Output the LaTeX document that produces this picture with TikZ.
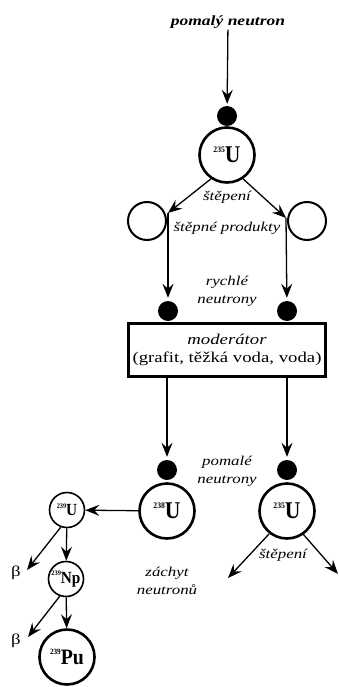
\documentclass[tikz,border=0pt]{standalone}
\usepackage{fontspec}
\setmainfont{Liberation Serif}[FakeStretch=1.25]
\newfontfamily\nucfont{Liberation Serif}[FakeStretch=0.9]
\usetikzlibrary{arrows.meta}
\newcommand\nucl[4]{{\nucfont\bfseries\fontsize{#3}{#3}\selectfont\raisebox{0.42em}{\fontsize{#4}{#4}\selectfont #1}#2}}
\begin{document}
\begin{tikzpicture}[x=1pt,y=-1pt,
 arr/.style={line width=1.3pt,-{Stealth[length=14pt,width=11pt,inset=5pt]}},
 dotn/.style={circle,fill=black,minimum size=20pt,inner sep=0},
 bignuc/.style={circle,draw,line width=2.6pt,minimum size=55pt,inner sep=0},
 smallnuc/.style={circle,draw,line width=1.6pt,minimum size=35pt,inner sep=0},
 frag/.style={circle,draw,line width=2pt,minimum size=38pt,inner sep=0},
 lab/.style={font=\itshape\fontsize{13.5}{18}\selectfont,align=center,inner sep=1pt},
 betal/.style={font=\fontsize{15}{15}\selectfont,inner sep=0}]
\useasboundingbox (0,0) rectangle (339,687);
% top
\node[font=\bfseries\itshape\fontsize{14}{16}\selectfont,inner sep=1pt] (tn) at (228,22) {pomalý neutron};
\node[dotn] (d1) at (227,116) {};
\node[bignuc] (u1) at (227,155) {\nucl{235}{U}{24}{8.5}};
\draw[arr,shorten >=2pt] (tn) -- (d1);
\node[lab] (st1) at (227,197) {štěpení};
\node[frag] (cl) at (147,221) {};
\node[frag] (cr) at (307,221) {};
\coordinate (fl) at (168,213);
\coordinate (fr) at (286,218);
\draw[arr] (u1.236) -- (fl);
\draw[arr] (u1.304) -- (fr);
\node[lab] (sp) at (227,228) {štěpné produkty};
\node[lab] (rn) at (227,291) {rychlé\\neutrony};
\node[dotn] (dl) at (168,311) {};
\node[dotn] (dr) at (287,311) {};
\draw[arr,shorten >=3pt] (fl) -- (dl);
\draw[arr,shorten >=3pt] (fr) -- (dr);
% moderator
\node[draw,line width=3pt,minimum width=197pt,minimum height=53pt,align=center,inner sep=0,
      font=\fontsize{15}{18}\selectfont] (box) at (227,350) {\textit{moderátor}\\(grafit, těžká voda, voda)};
% slow neutrons
\node[dotn] (dl2) at (167,470) {};
\node[dotn] (dr2) at (287,470) {};
\draw[arr,shorten >=3pt] (box.south -| dl2) -- (dl2);
\draw[arr,shorten >=3pt] (box.south -| dr2) -- (dr2);
\node[lab] (pn) at (227,471) {pomalé\\neutrony};
\node[bignuc] (u238) at (167,511) {\nucl{238}{U}{24}{8.5}};
\node[bignuc] (u2) at (287,511) {\nucl{235}{U}{24}{8.5}};
% capture chain
\node[smallnuc] (u239) at (67,510) {\nucl{239}{U}{17}{7}};
\node[smallnuc] (np) at (66,579) {\nucl{239}{Np}{17}{7}};
\node[bignuc] (pu) at (67,657) {\nucl{239}{Pu}{22}{8}};
\draw[arr] (u238) -- (u239);
\draw[arr] (u239) -- (np);
\draw[arr] (np) -- (pu);
\coordinate (b1) at (27,570);
\coordinate (b2) at (28,637);
\draw[arr] (u239.250) -- (b1);
\draw[arr] (np.250) -- (b2);
\node[betal] (be1) at (16,573) {β};
\node[betal] (be2) at (16,641) {β};
\node[lab] (zn) at (167,581) {záchyt\\neutronů};
% fission of bottom U-235
\coordinate (fl2) at (228,578);
\coordinate (fr2) at (338,574);
\draw[arr] (u2.232) -- (fl2);
\draw[arr] (u2.305) -- (fr2);
\node[lab] (st2) at (283,555) {štěpení};
\end{tikzpicture}
\end{document}
